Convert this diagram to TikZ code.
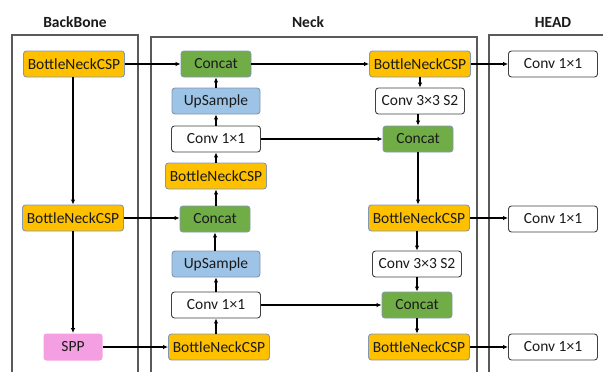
\documentclass[tikz,border=0pt]{standalone}
\usepackage{fontspec}
\setmainfont{Carlito}
\usetikzlibrary{arrows.meta}
\definecolor{csporange}{HTML}{FFC000}
\definecolor{catgreen}{HTML}{70AD47}
\definecolor{upblue}{HTML}{9DC3E6}
\definecolor{spppink}{HTML}{F59FE3}
\definecolor{edgeblue}{HTML}{8497B0}
\definecolor{panelgray}{HTML}{5A5A5A}
\definecolor{txt}{HTML}{1A1A1A}
\tikzset{
  blk/.style={rounded corners=3pt, minimum height=26pt, inner sep=0pt,
    font=\fontsize{15.5}{17}\selectfont, text=txt, line width=0.9pt},
  csp/.style={blk, fill=csporange, draw=edgeblue, minimum width=101pt},
  cat/.style={blk, fill=catgreen, draw=edgeblue, minimum width=70pt},
  ups/.style={blk, fill=upblue, draw=edgeblue, minimum width=88pt},
  conv/.style={blk, fill=white, draw=black!75, minimum width=89pt},
  sppbox/.style={blk, fill=spppink, draw=none, minimum width=59pt, minimum height=27pt},
  panel/.style={draw=panelgray, line width=1.1pt},
  title/.style={font=\fontsize{15.5}{17}\selectfont\bfseries, text=txt},
  arr/.style={draw=black, line width=1.4pt, -{Latex[length=5pt,width=4.5pt]}},
  ln/.style={draw=black, line width=1.4pt}
}
\begin{document}
\begin{tikzpicture}[x=1pt,y=-1pt]
\useasboundingbox (0,0) rectangle (603,372);

% panels, open at the bottom
\draw[panel] (12,372) -- (12,35) -- (138,35) -- (138,372);
\draw[panel] (151,372) -- (151,37) -- (477,37) -- (477,372);
\draw[panel] (489,372) -- (489,35) -- (603,35);

\node[title] (tb) at (75,22) {BackBone};
\node[title] (tn) at (308,22) {Neck};
\node[title] (th) at (553,22) {HEAD};

% backbone
\node[csp] (b1) at (74,64) {BottleNeckCSP};
\node[csp] (b2) at (73,218) {BottleNeckCSP};
\node[sppbox] (spp) at (73,347) {SPP};

% neck, upward path
\node[cat] (c1) at (216,64) {Concat};
\node[ups] (u1) at (216,101) {UpSample};
\node[conv] (k1) at (216,139) {Conv 1×1};
\node[csp] (n1) at (216,176) {BottleNeckCSP};
\node[cat] (c2) at (215,219) {Concat};
\node[ups] (u2) at (216,264) {UpSample};
\node[conv] (k2) at (216,305) {Conv 1×1};
\node[csp] (n2) at (219,347) {BottleNeckCSP};

% neck, downward path
\node[csp] (r1) at (420,64) {BottleNeckCSP};
\node[conv] (s1) at (420,101) {Conv 3×3 S2};
\node[cat] (d1) at (418,139) {Concat};
\node[csp] (r2) at (419,218) {BottleNeckCSP};
\node[conv] (s2) at (417,264) {Conv 3×3 S2};
\node[cat] (d2) at (417,305) {Concat};
\node[csp] (r3) at (419,347) {BottleNeckCSP};

% head
\node[conv] (h1) at (553,64) {Conv 1×1};
\node[conv] (h2) at (553,219) {Conv 1×1};
\node[conv] (h3) at (553,347) {Conv 1×1};

% backbone links
\draw[arr] (b1.south -| b2) -- (b2.north);
\draw[arr] (b2.south) -- (b2.south |- spp.north);
\draw[arr] (b1.east) -- (b1.east -| c1.west);
\draw[arr] (b2.east) -- (b2.east -| c2.west);
\draw[arr] (spp.east) -- (spp.east -| n2.west);

% upward path
\draw[arr] (n2.north -| k2) -- (k2.south);
\draw[arr] (k2.north) -- (u2.south);
\draw[arr] (u2.north -| c2) -- (c2.south);
\draw[arr] (c2.north -| n1) -- (n1.south);
\draw[arr] (n1.north) -- (k1.south);
\draw[arr] (k1.north) -- (u1.south);
\draw[arr] (u1.north) -- (c1.south);

% downward path
\draw[arr] (c1.east) -- (c1.east -| r1.west);
\draw[arr] (r1.south) -- (s1.north);
\draw[arr] (s1.south -| d1) -- (d1.north);
\draw[arr] (d1.south) -- (d1.south |- r2.north);
\draw[arr] (r2.south -| s2) -- (s2.north);
\draw[arr] (s2.south) -- (d2.north);
\draw[arr] (d2.south) -- (d2.south |- r3.north);

% lateral links
\draw[arr] (k1.east) -- (k1.east -| d1.west);
\draw[arr] (k2.east) -- (k2.east -| d2.west);

% outputs to head
\draw[arr] (r1.east) -- (r1.east -| h1.west);
\draw[arr] (r2.east) -- (r2.east -| h2.west);
\draw[arr] (r3.east) -- (r3.east -| h3.west);
\end{tikzpicture}
\end{document}
